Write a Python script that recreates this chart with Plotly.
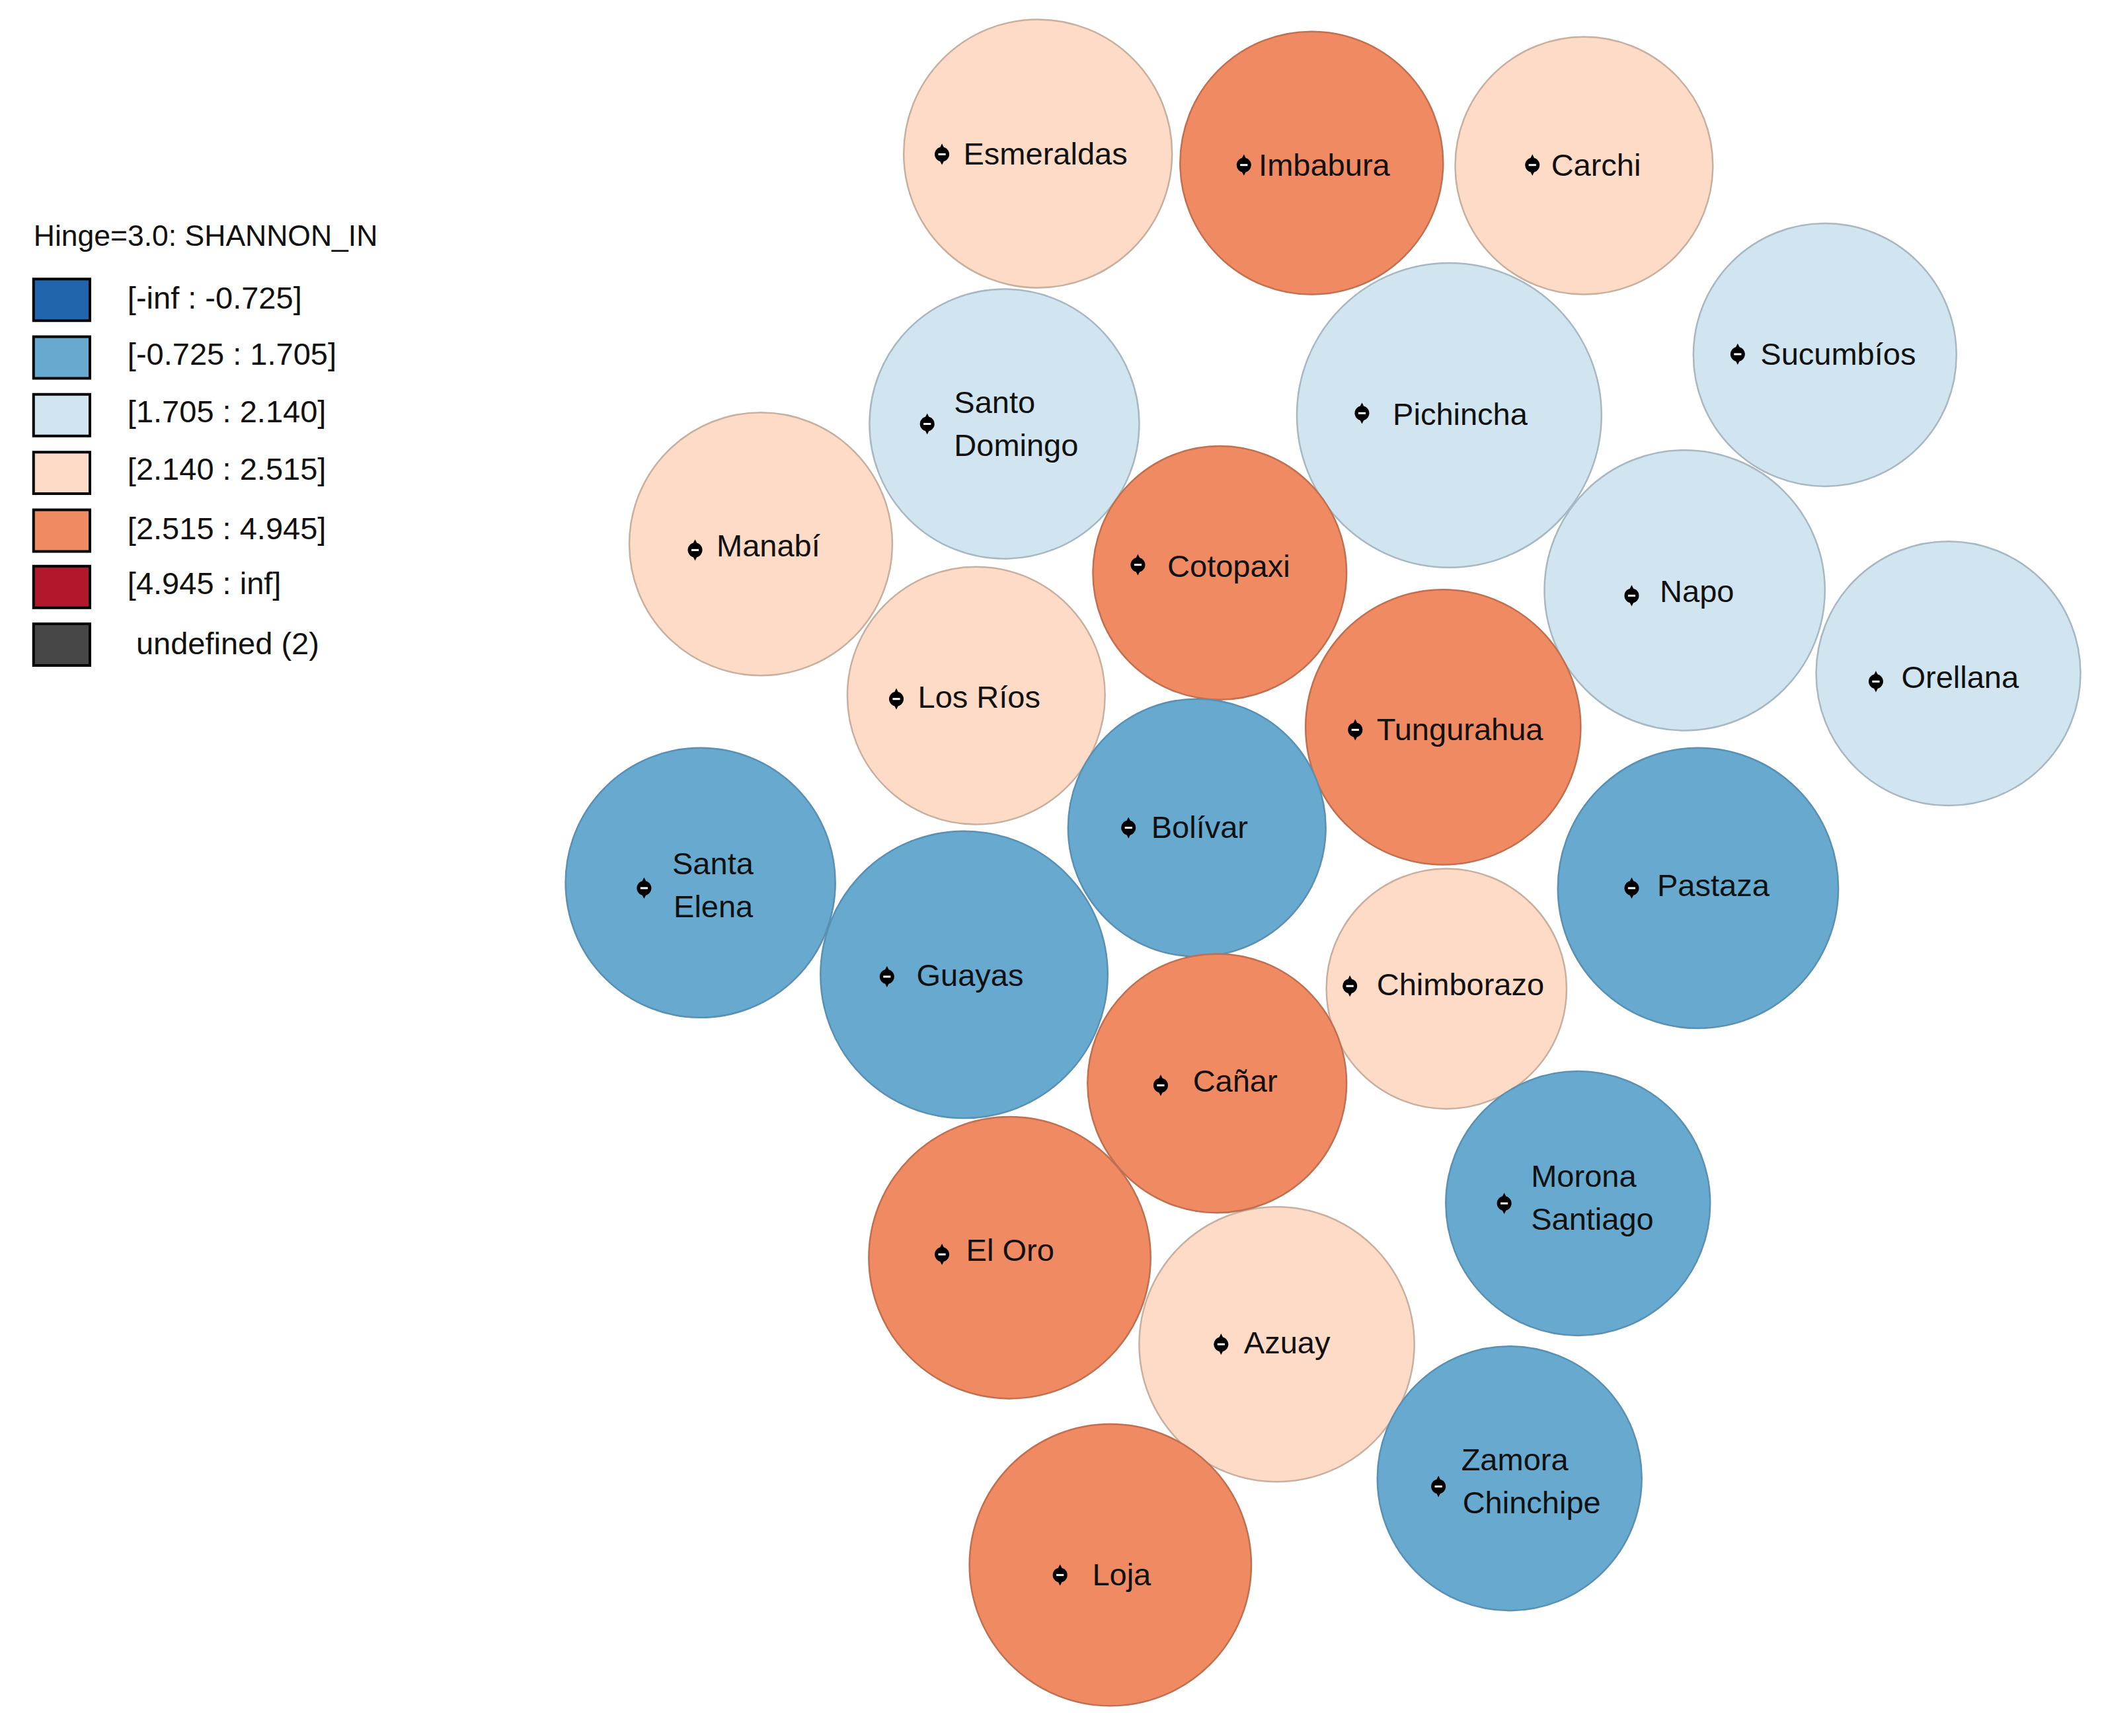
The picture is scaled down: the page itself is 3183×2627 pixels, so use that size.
import plotly.graph_objects as go

# cartogram, in units of the 1568x1294 view
names = ["Chimborazo", "Azuay", "Pichincha", "Guayas", "Manabí", "Esmeraldas", "Santo Domingo", "Imbabura", "Carchi",
         "Sucumbíos", "Orellana", "Napo", "Los Ríos", "Santa Elena", "Pastaza", "Cotopaxi", "Tungurahua",
         "Bolívar", "Cañar", "Morona Santiago", "El Oro", "Zamora Chinchipe", "Loja"]
cx = [1078, 951.5, 1080, 718.5, 567, 773.5, 748.5, 977.5, 1180.5, 1360, 1452, 1255.5, 727.5, 522, 1265.5, 909, 1075.5,
      892, 907, 1176, 752.5, 1125, 827.5]
cy = [737, 1002, 309.5, 726.5, 405.5, 114.5, 316, 121.5, 123.5, 264.5, 502, 440, 518.5, 658, 662, 427, 542,
      617, 807.5, 897, 937.5, 1102, 1166.5]
diam = [179, 205, 227, 214, 196, 200, 201, 196, 192, 196, 197, 209, 192, 201, 209, 189, 205, 192, 193, 197, 210, 197, 210]
cls = [3, 3, 2, 1, 3, 3, 2, 4, 3, 2, 2, 2, 3, 1, 1, 4, 4, 1, 4, 1, 4, 1, 4]

# centroid dots, same order as names
dot_x = [1006, 910, 1015, 661, 518, 702, 691, 927, 1142, 1295, 1398, 1216, 668, 480, 1216, 848, 1010, 841, 865, 1121, 702, 1072, 790]
dot_y = [735, 1002, 308, 728, 410, 115, 316, 123, 123, 264, 508, 444, 521, 662, 662, 421, 544, 617, 809, 897, 935, 1108, 1174]

label_text = ["Esmeraldas", "Imbabura", "Carchi", "Sucumbíos", "Pichincha", "Santo", "Domingo", "Manabí", "Cotopaxi",
              "Napo", "Orellana", "Los Ríos", "Tungurahua", "Bolívar", "Santa", "Elena", "Pastaza", "Guayas",
              "Chimborazo", "Cañar", "Morona", "Santiago", "El Oro", "Azuay", "Zamora", "Chinchipe", "Loja"]
label_x = [718, 938, 1156, 1312, 1038, 711, 711, 534, 870, 1237, 1417, 684, 1026, 858, 501, 502, 1235, 683,
           1026, 889, 1141, 1141, 720, 927, 1089, 1090, 814]
label_y = [117, 125, 125, 266, 311, 302, 334, 409, 424, 443, 507, 522, 546, 619, 646, 678, 662, 729,
           736, 808, 879, 911, 934, 1003, 1090, 1122, 1176]

legend_title = "Hinge=3.0: SHANNON_IN"
legend_labels = ["[-inf : -0.725]", "[-0.725 : 1.705]", "[1.705 : 2.140]", "[2.140 : 2.515]",
                 "[2.515 : 4.945]", "[4.945 : inf]", " undefined (2)"]
legend_colors = ["#2166ac", "#67a9cf", "#d1e5f0", "#fddbc7", "#ef8a62", "#b2182b", "#464646"]
edge_colors = ["#1a5284", "#5a90b2", "#a8b8c2", "#c8b0a0", "#c07050", "#891220", "#363636"]
legend_top = [208, 251, 294, 337, 380, 422, 465]
legend_text_y = [224, 266, 309, 352, 396, 437, 482]

view_w, view_h = 1568, 1294
scale = 3183 / view_w
font = "Liberation Sans"

fig = go.Figure()

fig.add_trace(go.Scatter(
    x=cx, y=cy, mode="markers", text=names, hoverinfo="text",
    marker=dict(size=diam, sizemode="diameter", sizeref=1 / scale,
                color=[legend_colors[c] for c in cls], opacity=1,
                line=dict(color=[edge_colors[c] for c in cls], width=2.5)),
))
# centroid dot: narrow black body (circle + tall diamond) with a white bar through it
fig.add_trace(go.Scatter(
    x=dot_x, y=dot_y, mode="markers", hoverinfo="skip",
    marker=dict(symbol="circle", size=22, color="black", line=dict(width=0)),
))
fig.add_trace(go.Scatter(
    x=dot_x, y=dot_y, mode="markers", hoverinfo="skip",
    marker=dict(symbol="diamond-tall", size=23, color="black", line=dict(width=0)),
))
fig.add_trace(go.Scatter(
    x=dot_x, y=dot_y, mode="markers", hoverinfo="skip",
    marker=dict(symbol="line-ew", size=8, line=dict(color="white", width=3)),
))
fig.add_trace(go.Scatter(
    x=label_x, y=label_y, mode="text", text=label_text, textposition="middle right",
    hoverinfo="skip", textfont=dict(family=font, size=47, color="#111111"),
))

# legend
fig.add_trace(go.Scatter(
    x=[25], y=[178], mode="text", text=[legend_title], textposition="middle right",
    hoverinfo="skip", textfont=dict(family=font, size=44.5, color="#111111"),
))
fig.add_trace(go.Scatter(
    x=[95] * len(legend_labels), y=legend_text_y, mode="text", text=legend_labels, textposition="middle right",
    hoverinfo="skip", textfont=dict(family=font, size=47, color="#111111"),
))
for color, top in zip(legend_colors, legend_top):
    fig.add_shape(type="rect", xref="x", yref="y", x0=25, x1=67, y0=top, y1=top + 31,
                  fillcolor=color, line=dict(color="black", width=4))

fig.update_xaxes(visible=False, range=[0, view_w])
fig.update_yaxes(visible=False, range=[view_h, 0])
fig.update_layout(width=3183, height=2627, margin=dict(l=0, r=0, t=0, b=0), showlegend=False,
                  paper_bgcolor="white", plot_bgcolor="white")
fig.write_html("out.html", config={"displayModeBar": False},
               post_script="document.body.style.margin = '0';")
